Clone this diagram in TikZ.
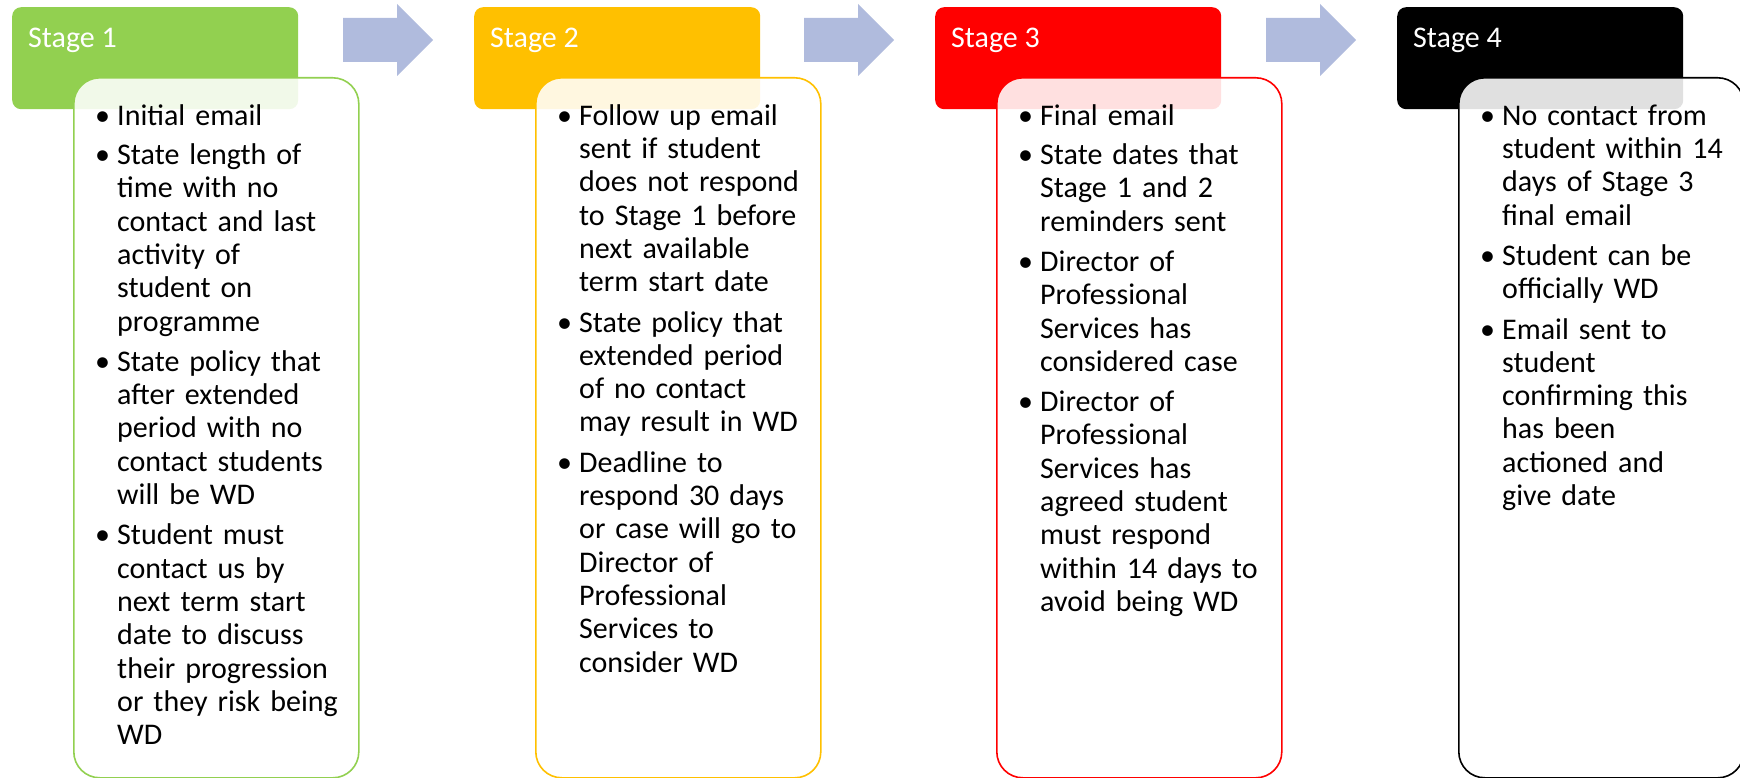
\documentclass[tikz,border=0pt]{standalone}
\usepackage{fontspec}
\setmainfont{Carlito}
\definecolor{stageonecol}{RGB}{146,208,80}
\definecolor{stagetwocol}{RGB}{255,192,0}
\definecolor{stagethreecol}{RGB}{255,0,0}
\definecolor{stagefourcol}{RGB}{0,0,0}
\definecolor{arrowcol}{RGB}{176,187,221}
\newcommand{\headfont}{\fontsize{30pt}{36pt}\selectfont}
\newcommand{\stagefont}{\fontsize{30pt}{33.3pt}\selectfont\setlength{\parskip}{6pt}}
\newcommand{\stagept}[1]{\noindent\makebox[20pt][l]{\hspace{-2pt}\textbullet}\begin{tabular}[t]{@{}l@{}}#1\end{tabular}\par}
\begin{document}
\begin{tikzpicture}[x=1pt,y=-1pt,
    stagehead/.style={anchor=north west,rounded corners=9pt,minimum width=286pt,minimum height=102pt,inner sep=0pt},
    headlabel/.style={anchor=base west,text=white,inner sep=0pt,font=\headfont},
    stagebox/.style={anchor=north west,draw,line width=1.6pt,fill=white,fill opacity=0.88,rounded corners=26pt,minimum width=285pt,minimum height=700pt,inner sep=0pt},
    stagetext/.style={anchor=north west,inner sep=0pt,text width=250pt,align=left,font=\stagefont},
    flowarrow/.style={fill=arrowcol}]
    %% NOTE:
    %% page frame
    \useasboundingbox (0,0) rectangle (1740,778);
    %% Stage 1
    \node[stagehead,fill=stageonecol] (head1) at (12,7) {};
    \node[headlabel] (label1) at (28,48) {Stage 1};
    \node[stagebox,draw=stageonecol] (box1) at (73,77) {};
    \node[stagetext] (text1) at (97,101.7) {%
        \stagept{Initial email}
        \stagept{State length of\\time with no\\contact and last\\activity of\\student on\\programme}
        \stagept{State policy that\\after extended\\period with no\\contact students\\will be WD}
        \stagept{Student must\\contact us by\\next term start\\date to discuss\\their progression\\or they risk being\\WD}};
    %% Stage 2
    \node[stagehead,fill=stagetwocol] (head2) at (474,7) {};
    \node[headlabel] (label2) at (490,48) {Stage 2};
    \node[stagebox,draw=stagetwocol] (box2) at (535,77) {};
    \node[stagetext] (text2) at (559,101.7) {%
        \stagept{Follow up email\\sent if student\\does not respond\\to Stage 1 before\\next available\\term start date}
        \stagept{State policy that\\extended period\\of no contact\\may result in WD}
        \stagept{Deadline to\\respond 30 days\\or case will go to\\Director of\\Professional\\Services to\\consider WD}};
    %% Stage 3
    \node[stagehead,fill=stagethreecol] (head3) at (935,7) {};
    \node[headlabel] (label3) at (951,48) {Stage 3};
    \node[stagebox,draw=stagethreecol] (box3) at (996,77) {};
    \node[stagetext] (text3) at (1020,101.7) {%
        \stagept{Final email}
        \stagept{State dates that\\Stage 1 and 2\\reminders sent}
        \stagept{Director of\\Professional\\Services has\\considered case}
        \stagept{Director of\\Professional\\Services has\\agreed student\\must respond\\within 14 days to\\avoid being WD}};
    %% Stage 4
    \node[stagehead,fill=stagefourcol] (head4) at (1397,7) {};
    \node[headlabel] (label4) at (1413,48) {Stage 4};
    \node[stagebox,draw=stagefourcol] (box4) at (1458,77) {};
    \node[stagetext] (text4) at (1482,101.7) {%
        \stagept{No contact from\\student within 14\\days of Stage 3\\final email}
        \stagept{Student can be\\officially WD}
        \stagept{Email sent to\\student\\confirming this\\has been\\actioned and\\give date}};
    %% arrows between stages
    \fill[flowarrow] (343,18) -- (397,18) -- (397,4) -- (433,40) -- (397,76) -- (397,62) -- (343,62) -- cycle;
    \fill[flowarrow] (804,18) -- (858,18) -- (858,4) -- (894,40) -- (858,76) -- (858,62) -- (804,62) -- cycle;
    \fill[flowarrow] (1266,18) -- (1320,18) -- (1320,4) -- (1356,40) -- (1320,76) -- (1320,62) -- (1266,62) -- cycle;
\end{tikzpicture}
\end{document}
